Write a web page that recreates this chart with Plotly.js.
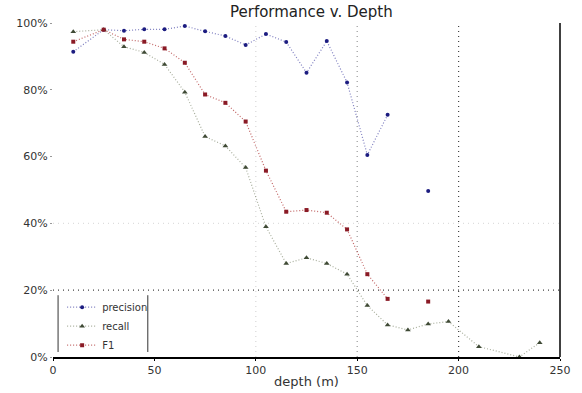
<!DOCTYPE html>
<html><head><meta charset="utf-8">
<script src="https://cdn.plot.ly/plotly-3.0.1.min.js"></script>
<style>body{margin:0;background:#fff}#chart{width:582px;height:393px}</style>
</head><body><div id="chart"></div>
<script>
const depth = [10, 25, 35, 45, 55, 65, 75, 85, 95, 105, 115, 125, 135, 145, 155, 165, 175, 185, 195, 210, 230, 240];
const precision = [91.4, 98, 97.7, 98.1, 98.1, 99.1, 97.5, 96.1, 93.4, 96.7, 94.3, 85.1, 94.6, 82.2, 60.5, 72.5, null, 49.7, null, null, null, null];
const recall = [97.4, 98, 92.9, 91.2, 87.6, 79.3, 66.0, 63.2, 56.7, 39.0, 28.0, 29.7, 28.0, 24.8, 15.4, 9.6, 8.1, 9.9, 10.6, 3.1, 0, 4.3];
const f1 = [94.4, 98, 95.1, 94.4, 92.4, 88.1, 78.6, 76.1, 70.5, 55.8, 43.5, 44.0, 43.2, 38.2, 24.8, 17.4, null, 16.6, null, null, null, null];
const xTicks = [0, 50, 100, 150, 200, 250];
const yTicks = [0, 20, 40, 60, 80, 100];
const yTickText = ['0%', '20%', '40%', '60%', '80%', '100%'];

const traces = [
  {x: depth, y: precision, name: 'precision', mode: 'lines+markers', connectgaps: false,
   line: {color: 'rgba(40,40,150,0.6)', dash: '1px,2px', width: 1.2},
   marker: {color: '#1c1c80', size: 4, symbol: 'circle'}},
  {x: depth, y: recall, name: 'recall', mode: 'lines+markers', connectgaps: false,
   line: {color: 'rgba(110,120,90,0.6)', dash: '1px,2px', width: 1.2},
   marker: {color: '#3f4a35', size: 5, symbol: 'triangle-up'}},
  {x: depth, y: f1, name: 'F1', mode: 'lines+markers', connectgaps: false,
   line: {color: 'rgba(170,40,40,0.7)', dash: '1px,2px', width: 1.2},
   marker: {color: '#8a1a25', size: 4, symbol: 'square'}}
];

const grid = (xv, c) => ({type: 'line', xref: 'x', yref: 'y', x0: xv, x1: xv, y0: 0, y1: 100,
  line: {color: c, width: 1.2, dash: '1px,4px'}, layer: 'below'});
const hgrid = (yv, c) => ({type: 'line', xref: 'paper', yref: 'y', x0: 0, x1: 1, y0: yv, y1: yv,
  line: {color: c, width: 1.2, dash: '1px,4px'}, layer: 'below'});

const layout = {
  width: 582, height: 393,
  margin: {l: 53, r: 22, t: 23, b: 36},
  paper_bgcolor: '#fff', plot_bgcolor: '#fff',
  font: {family: 'DejaVu Sans, sans-serif', size: 11, color: '#333'},
  title: {text: 'Performance v. Depth', font: {size: 15, color: '#222'}, x: 0.535, xanchor: 'center', y: 0.983, yanchor: 'top'},
  xaxis: {range: [0, 250], tickvals: xTicks, ticktext: xTicks.map(String), showgrid: false, zeroline: false,
    showline: true, linecolor: '#000', linewidth: 1.5, ticks: 'outside', ticklen: 2, tickcolor: '#000',
    title: {text: 'depth (m)', font: {size: 13, color: '#333'}, standoff: 1}},
  yaxis: {range: [0, 100], tickvals: yTicks, ticktext: yTickText, showgrid: false, zeroline: false,
    showline: false, ticks: 'outside', ticklen: 2, tickcolor: '#999'},
  showlegend: true,
  legend: {x: 0.018, y: -0.008, xanchor: 'left', yanchor: 'bottom', bgcolor: 'rgba(255,255,255,0)',
    borderwidth: 0, font: {size: 10, color: '#333'}, itemwidth: 30, tracegroupgap: 0},
  shapes: [
    grid(100, '#d8d8d8'),
    grid(150, '#9a9a9a'),
    grid(200, '#444444'),
    hgrid(40, '#dddddd'),
    hgrid(20, '#444444'),
    {type: 'line', xref: 'paper', yref: 'paper', x0: 1, x1: 1, y0: 0, y1: 1, line: {color: '#000', width: 1.5}},
    {type: 'line', xref: 'paper', yref: 'paper', x0: 0.01, x1: 0.01, y0: 0.015, y1: 0.185, line: {color: '#333', width: 1}},
    {type: 'line', xref: 'paper', yref: 'paper', x0: 0.187, x1: 0.187, y0: 0.015, y1: 0.185, line: {color: '#333', width: 1}}
  ]
};
Plotly.newPlot('chart', traces, layout, {displayModeBar: false, staticPlot: true});
</script></body></html>
